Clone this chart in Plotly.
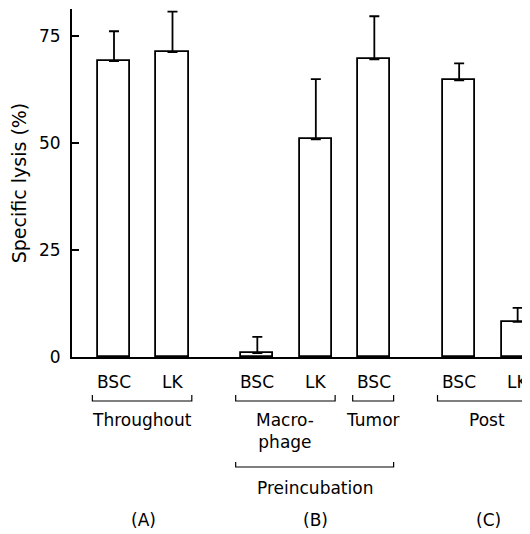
import plotly.graph_objects as go

# ---- data ----
bar_labels = ["BSC", "LK", "BSC", "LK", "BSC", "BSC", "LK"]
lysis = [69.2, 71.3, 0.9, 50.9, 69.6, 64.7, 8.2]
lysis_err = [7.0, 9.5, 3.8, 14.1, 10.1, 4.0, 3.3]
group_of_bar = [0, 0, 1, 1, 1, 2, 2]            # (A), (B), (C)
subgroup_names = ["Throughout", "Macro-<br>phage", "Tumor", "Post"]
subgroup_members = [[0, 1], [2, 3], [4], [5, 6]]
group_names = ["(A)", "(B)", "(C)"]
super_name = "Preincubation"
super_members = [1, 2]                        # subgroups spanned
y_ticks = [0, 25, 50, 75]
y_title = "Specific lysis (%)"

# ---- layout helpers ----
OFF = 8                      # page body margin in the browser
GROUP_GAP = 0.45
xpos = [i + GROUP_GAP * g for i, g in enumerate(group_of_bar)]

PW, PH = 530, 534            # page (viewport) size
W, H = PW - OFF, PH - OFF
AX_X, BASE_Y, TOP_Y = 72, 357, 9   # page pixels
ML, MR, MT = AX_X - OFF, 0, TOP_Y - OFF
MB = H - (BASE_Y - OFF)
plot_h = H - MT - MB
YMAX = 81.4


def py(Y):
    """page pixel row -> paper y"""
    return (BASE_Y - Y) / plot_h


FONT = "DejaVu Sans"
FS = 17
fig = go.Figure()
fig.add_trace(go.Bar(
    x=xpos, y=lysis, width=0.55,
    marker=dict(color="white", line=dict(color="black", width=1.8)),
    error_y=dict(type="data", symmetric=False, array=lysis_err,
                 arrayminus=[0] * len(lysis_err),
                 color="black", thickness=1.8, width=5),
    showlegend=False,
))

ann = []
shapes = []


def label(x, Y, text):
    ann.append(dict(x=x, y=py(Y), xref="x", yref="paper", text=text,
                    showarrow=False, font=dict(family=FONT, size=FS, color="black"),
                    xanchor="center", yanchor="middle"))


for x, lab in zip(xpos, bar_labels):
    label(x, 382, lab)


def bracket(x0, x1, ybot, ytop):
    return dict(type="path", xref="x", yref="paper",
                path=f"M {x0},{py(ytop)} L {x0},{py(ybot)} L {x1},{py(ybot)} L {x1},{py(ytop)}",
                line=dict(color="black", width=1.2))


sub_span = []
for name, mem in zip(subgroup_names, subgroup_members):
    x0 = xpos[mem[0]] - 0.37
    x1 = xpos[mem[-1]] + 0.33
    sub_span.append((x0, x1))
    shapes.append(bracket(x0, x1, 401, 395))
    label((x0 + x1) / 2, 420 if "<br>" not in name else 431, name)

sx0 = sub_span[super_members[0]][0]
sx1 = sub_span[super_members[-1]][1]
shapes.append(bracket(sx0, sx1, 467, 462))
label((sx0 + sx1) / 2, 488, super_name)

for g, name in enumerate(group_names):
    xs = [x for x, gg in zip(xpos, group_of_bar) if gg == g]
    label((min(xs) + max(xs)) / 2, 520, name)

unit = 58.5
x_left = xpos[0] - (114 - AX_X) / unit
x_right = x_left + (W - ML - MR) / unit

fig.update_layout(
    width=W, height=H,
    margin=dict(l=ML, r=MR, t=MT, b=MB, pad=0),
    paper_bgcolor="white", plot_bgcolor="white",
    annotations=ann, shapes=shapes,
    bargap=0,
    xaxis=dict(range=[x_left, x_right], showticklabels=False, ticks="",
               showgrid=False, zeroline=False, showline=True,
               linecolor="black", linewidth=1.8),
    yaxis=dict(range=[0, YMAX], tickvals=y_ticks, ticktext=[str(t) for t in y_ticks],
               ticks="inside", ticklen=7, tickwidth=1.5, tickcolor="black",
               showgrid=False, zeroline=False, showline=True,
               linecolor="black", linewidth=1.8, ticklabelstandoff=6,
               tickfont=dict(family=FONT, size=FS, color="black"),
               title=dict(text=y_title, standoff=12,
                          font=dict(family=FONT, size=19, color="black"))),
)

fig.write_html("out.html")
